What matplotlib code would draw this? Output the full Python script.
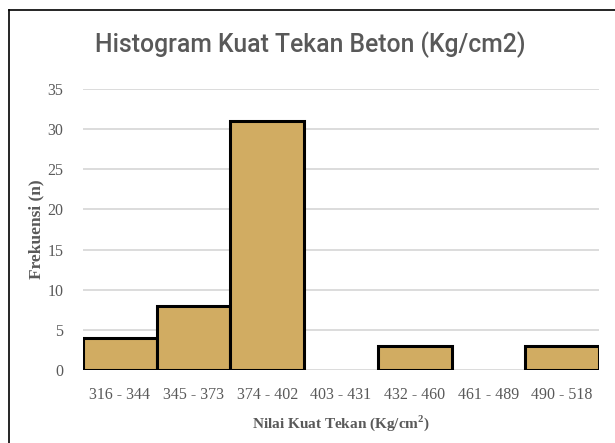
import matplotlib
matplotlib.use("Agg")
import matplotlib.pyplot as plt
from matplotlib.lines import Line2D

categories = ["316 - 344", "345 - 373", "374 - 402", "403 - 431",
              "432 - 460", "461 - 489", "490 - 518"]
counts = [4, 8, 31, 0, 3, 0, 3]
yticks = [0, 5, 10, 15, 20, 25, 30, 35]

BAR_COLOR = "#D1AC62"
TEXT_GRAY = "#595959"
GRID_GRAY = "#D9D9D9"

fig = plt.figure(figsize=(6.15, 4.43), dpi=100)
ax = fig.add_axes([83 / 615, 1 - 370 / 443, 516 / 615, (370 - 89) / 443])

xs = list(range(len(categories)))
for x, c in zip(xs, counts):
    if c > 0:
        ax.bar(x, c, width=1.0, color=BAR_COLOR, edgecolor="black",
               linewidth=2.2, zorder=3)

ax.set_xlim(-0.5, len(categories) - 0.5)
ax.set_ylim(0, 35)
ax.set_yticks(yticks)
ax.set_xticks(xs)
ax.set_xticklabels(categories)
ax.yaxis.grid(True, color=GRID_GRAY, linewidth=1.3, zorder=0)
ax.set_axisbelow(True)
for s in ax.spines.values():
    s.set_visible(False)
ax.tick_params(length=0, labelsize=11.5, labelcolor=TEXT_GRAY)
ax.tick_params(axis="x", pad=12)
ax.tick_params(axis="y", pad=14)
for lbl in ax.get_xticklabels() + ax.get_yticklabels():
    lbl.set_fontfamily("Liberation Serif")

ax.set_ylabel("Frekuensi (n)", fontfamily="Liberation Serif",
              fontweight="bold", fontsize=12.5, color=TEXT_GRAY, labelpad=2)
ax.set_xlabel(r"Nilai Kuat Tekan (Kg/cm$^\mathregular{2}$)",
              fontfamily="Liberation Serif", fontweight="bold",
              fontsize=11, color=TEXT_GRAY, labelpad=8)

fig.text(310 / 615, 1 - 45 / 443, "Histogram Kuat Tekan Beton (Kg/cm2)",
         ha="center", va="center", fontsize=17.8, color=TEXT_GRAY,
         fontfamily=["Roboto", "DejaVu Sans"], fontweight="medium")

# outer border (top and left edges visible in the reference)
fig.add_artist(Line2D([9 / 615, 9 / 615], [0, 1 - 10 / 443],
                      transform=fig.transFigure, color="black", linewidth=1.2))
fig.add_artist(Line2D([9 / 615, 1], [1 - 10 / 443, 1 - 10 / 443],
                      transform=fig.transFigure, color="black", linewidth=1.2))

fig.savefig("out.png", dpi=100)
